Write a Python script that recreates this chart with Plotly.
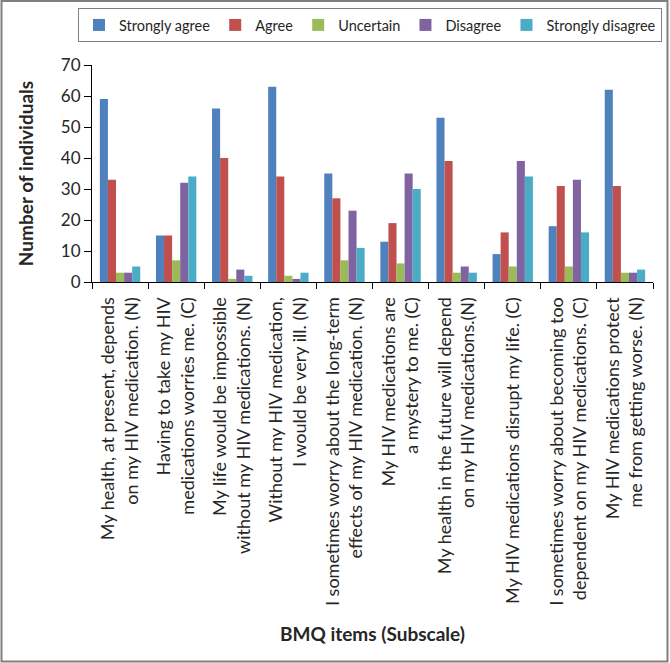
import plotly.graph_objects as go

categories = [
    "My health, at present, depends<br>on my HIV medication. (N)",
    "Having to take my HIV<br>medications worries me. (C)",
    "My life would be impossible<br>without my HIV medications. (N)",
    "Without my HIV medication,<br>I would be very ill. (N)",
    "I sometimes worry about the long-term<br>effects of my HIV medication. (N)",
    "My HIV medications are<br>a mystery to me. (C)",
    "My health in the future will depend<br>on my HIV medications.(N)",
    "My HIV medications disrupt my life. (C)",
    "I sometimes worry about becoming too<br>dependent on my HIV medications. (C)",
    "My HIV medications protect<br>me from getting worse. (N)",
]

strongly_agree = [59, 15, 56, 63, 35, 13, 53, 9, 18, 62]
agree = [33, 15, 40, 34, 27, 19, 39, 16, 31, 31]
uncertain = [3, 7, 1, 2, 7, 6, 3, 5, 5, 3]
disagree = [3, 32, 4, 1, 23, 35, 5, 39, 33, 3]
strongly_disagree = [5, 34, 2, 3, 11, 30, 3, 34, 16, 4]

series_names = ["Strongly agree", "Agree", "Uncertain", "Disagree", "Strongly disagree"]
series_values = [strongly_agree, agree, uncertain, disagree, strongly_disagree]
series_colors = ["#4F81BD", "#C0504D", "#9BBB59", "#8064A2", "#4BACC6"]

FONT = "Lato"
W, H = 670, 663
L, R, T, B = 92, 17, 65, 381
pw, ph = W - L - R, H - T - B

def px_x(x):
    return (x - L) / pw

def px_y(y):
    return (H - B - y) / ph

fig = go.Figure()
for name, vals, col in zip(series_names, series_values, series_colors):
    fig.add_trace(go.Bar(x=categories, y=vals, name=name, marker=dict(color=col, line=dict(width=0))))

fig.update_layout(
    width=W, height=H,
    margin=dict(l=L, r=R, t=T, b=B, autoexpand=False),
    paper_bgcolor="white", plot_bgcolor="white",
    barmode="group", bargap=0.28, bargroupgap=0,
    font=dict(family=FONT, color="#262626"),
    legend=dict(
        orientation="h", x=px_x(78), y=px_y(8), xanchor="left", yanchor="top",
        bordercolor="#808080", borderwidth=1, bgcolor="white",
        font=dict(size=14.5, family=FONT, color="#262626"),
        traceorder="normal",
    ),
    xaxis=dict(
        showline=True, linecolor="#000000", linewidth=1,
        ticks="outside", ticklen=6, tickcolor="#000000", tickson="boundaries",
        tickangle=-90, tickfont=dict(size=18, family=FONT, color="#262626"),
        ticklabelstandoff=7,
        showgrid=False, automargin=False,
        title=dict(text="<b>BMQ items (Subscale)</b>", font=dict(size=19, family=FONT, color="#262626"), standoff=22),
    ),
    yaxis=dict(
        range=[0, 70], dtick=10, showline=True, linecolor="#000000", linewidth=1,
        ticks="outside", ticklen=7, tickcolor="#000000",
        tickfont=dict(size=17, family=FONT, color="#262626"),
        showgrid=False, zeroline=False, automargin=False,
        title=dict(text="<b>Number of individuals</b>", font=dict(size=19, family=FONT, color="#262626"), standoff=22),
    ),
    shapes=[dict(
        type="rect", xref="paper", yref="paper",
        x0=px_x(1.5), x1=px_x(667.5), y0=px_y(661.5), y1=px_y(1),
        line=dict(color="#7F7F7F", width=2), fillcolor="rgba(0,0,0,0)", layer="above",
    )],
)

fig.write_html(
    "out.html",
    config={"displayModeBar": False},
    post_script="document.body.style.margin='0';document.body.style.overflow='hidden';",
)
